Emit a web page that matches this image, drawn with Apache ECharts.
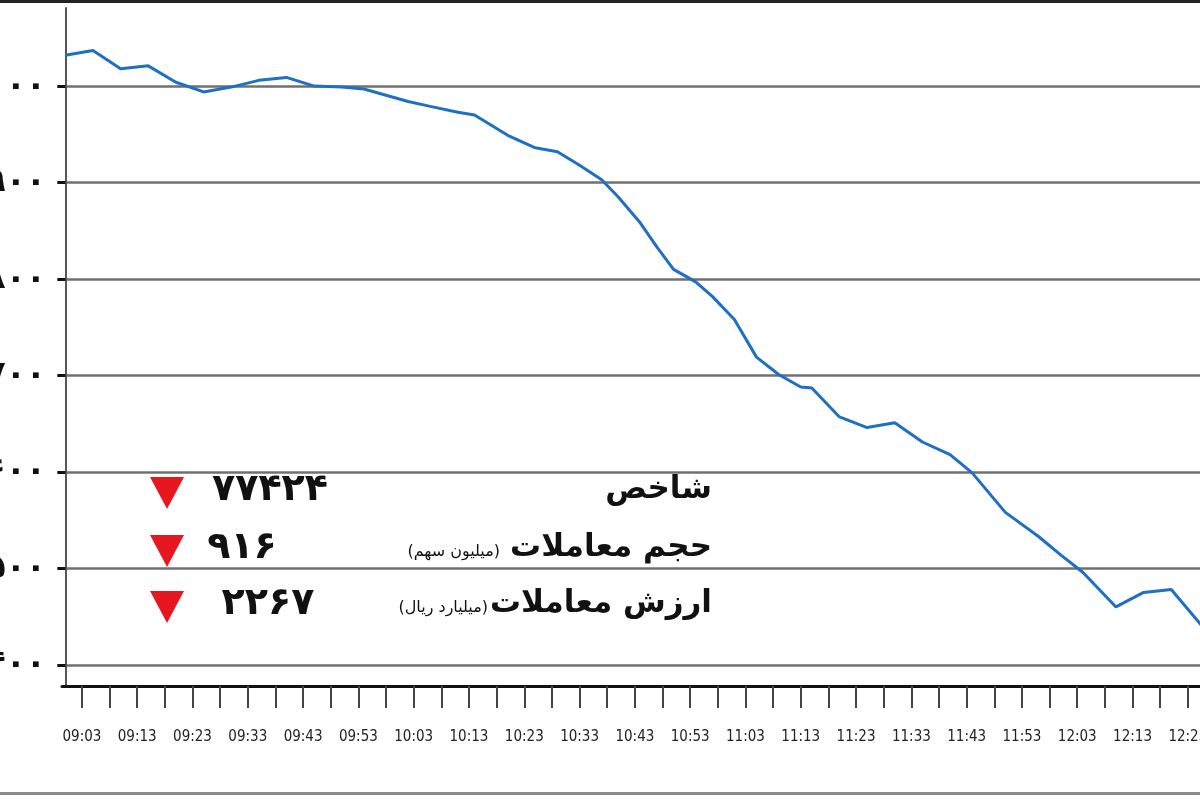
<!DOCTYPE html>
<html>
<head>
<meta charset="utf-8">
<script src="https://cdn.jsdelivr.net/npm/echarts@6/dist/echarts.min.js"></script>
<style>
html,body{margin:0;padding:0;background:#fff;}
#chart{width:1200px;height:800px;}
</style>
</head>
<body>
<div id="chart"></div>
<script>
// ---- data ----
const times = ["09:00","09:05","09:10","09:15","09:20","09:25","09:30","09:35","09:40","09:45","09:50","09:54","10:02","10:06","10:11","10:14","10:20","10:25","10:29","10:33","10:37","10:40","10:44","10:47","10:50","10:54","10:57","11:01","11:05","11:09","11:13","11:15","11:20","11:25","11:30","11:35","11:40","11:44","11:50","11:56","12:00","12:04","12:10","12:15","12:20","12:25","12:28"];
const indexValues = [78032,78037,78018,78021,78004,77994,77999,78006,78009,78000,77999,77997,77984,77979,77973,77970,77949,77936,77932,77918,77903,77885,77858,77833,77810,77797,77782,77758,77719,77701,77688,77687,77657,77646,77651,77631,77618,77599,77558,77533,77514,77496,77460,77475,77478,77444,77424];
const xLabels = ["09:03","09:13","09:23","09:33","09:43","09:53","10:03","10:13","10:23","10:33","10:43","10:53","11:03","11:13","11:23","11:33","11:43","11:53","12:03","12:13","12:23"];
const yTicks = [77400,77500,77600,77700,77800,77900,78000];
const statNames = ["شاخص","حجم معاملات","ارزش معاملات"];
const statUnits = ["","(میلیون سهم)","(میلیارد ریال)"];
const statValues = [77424,916,2267];

// ---- helpers ----
const toMin = s => { const p = s.split(":"); return (+p[0]-9)*60 + (+p[1]); };
const pad = n => (n<10?"0":"")+n;
const toTime = m => pad(9+Math.floor(m/60)) + ":" + pad(m%60);
const fa = v => String(v).replace(/\d/g, d => "۰۱۲۳۴۵۶۷۸۹"[d]);

const labelMins = xLabels.map(toMin);
const tickMins = [];
labelMins.forEach(m => { tickMins.push(m); tickMins.push(m+5); });

const seriesData = times.map((t,i)=>[toMin(t), indexValues[i]]);

const chart = echarts.init(document.getElementById('chart'));

const graphics = [
  {type:'rect', shape:{x:0,y:0,width:1200,height:3}, style:{fill:'#222'}, z:100},
  {type:'rect', shape:{x:0,y:792,width:1200,height:3}, style:{fill:'#8a8a8a'}, z:100}
];
const rowY = [490, 548, 604];
statNames.forEach((name,i)=>{
  const y = rowY[i];
  graphics.push({type:'text', x:712, y:y, z:50, style:{text:name, align:'right', verticalAlign:'middle',
     font:'bold 31px "DejaVu Sans", sans-serif', fill:'#111'}});
  if (statUnits[i]) graphics.push({type:'text', x:[500,488][i-1], y:y+4, z:50, style:{text:statUnits[i], align:'right', verticalAlign:'middle',
     font:'16px "DejaVu Sans", sans-serif', fill:'#111'}});
  graphics.push({type:'text', x:[270,242,268][i], y:y, z:50, style:{text:fa(statValues[i]), align:'center', verticalAlign:'middle',
     font:'bold 38px "DejaVu Sans", sans-serif', fill:'#111'}});
  graphics.push({type:'polygon', z:50, shape:{points:[[150,y-13],[184,y-13],[167,y+19]]}, style:{fill:'#e8171f'}});
});

chart.setOption({
  backgroundColor:'#fff',
  animation:false,
  grid:{left:62, right:0, top:8, bottom:114, containLabel:false, outerBoundsMode:'none'},
  xAxis:{
    type:'value', min:-0.6, max:205.2,
    axisLine:{show:true, lineStyle:{color:'#111', width:3}},
    axisTick:{show:true, customValues:tickMins, length:22, lineStyle:{color:'#444', width:2}},
    axisLabel:{show:true, customValues:labelMins, formatter:v=>toTime(Math.round(v)), margin:44,
      fontFamily:'"Liberation Sans Narrow", "DejaVu Sans Condensed", sans-serif', fontSize:15, color:'#222'},
    splitLine:{show:false}
  },
  yAxis:{
    type:'value', min:77378, max:78081,
    axisLine:{show:true, lineStyle:{color:'#555', width:2}},
    axisTick:{show:true, customValues:yTicks, length:8, lineStyle:{color:'#111', width:3}},
    axisLabel:{show:true, customValues:yTicks, formatter:v=>fa(v), margin:16,
      fontFamily:'"DejaVu Sans", sans-serif', fontSize:33, fontWeight:'bold', color:'#111'},
    splitLine:{show:true, lineStyle:{color:'#707070', width:2.5}}
  },
  series:[{
    type:'line', data:seriesData, symbol:'none', smooth:false,
    lineStyle:{color:'#1f6fc4', width:3}, z:10
  }],
  graphic: graphics
});
</script>
</body>
</html>
